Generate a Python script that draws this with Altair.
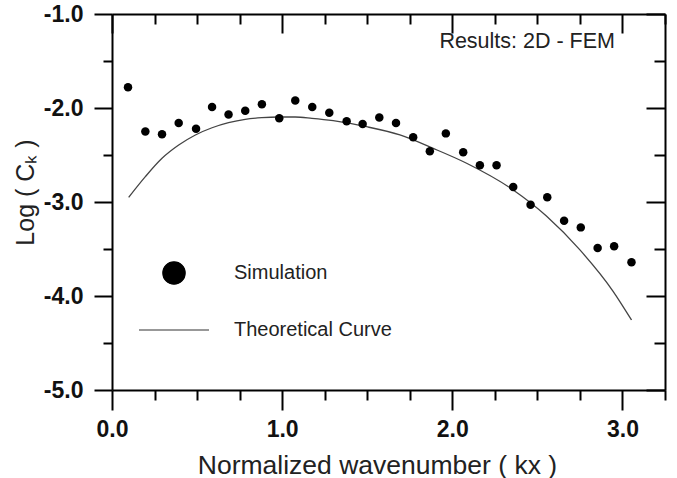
import altair as alt
import pandas as pd

# Simulation results (2D FEM): normalized wavenumber vs log of the coefficient
sim_kx = [0.094, 0.196, 0.294, 0.392, 0.494, 0.588, 0.685, 0.783, 0.881, 0.983,
          1.077, 1.177, 1.277, 1.379, 1.473, 1.571, 1.669, 1.770, 1.868, 1.962,
          2.064, 2.162, 2.260, 2.358, 2.460, 2.558, 2.657, 2.755, 2.854, 2.951, 3.053]
sim_logc = [-1.78, -2.25, -2.28, -2.16, -2.22, -1.99, -2.07, -2.03, -1.96, -2.11,
            -1.92, -1.99, -2.05, -2.14, -2.17, -2.10, -2.16, -2.31, -2.46, -2.27,
            -2.47, -2.61, -2.61, -2.84, -3.03, -2.95, -3.20, -3.27, -3.49, -3.47, -3.64]

# Theoretical curve
theory_kx = [0.098, 0.196, 0.294, 0.392, 0.490, 0.588, 0.685, 0.783, 0.881, 0.980,
             1.077, 1.175, 1.300, 1.496, 1.692, 1.888, 2.084, 2.358, 2.553, 2.750,
             2.945, 3.053]
theory_logc = [-2.95, -2.73, -2.535, -2.394, -2.287, -2.21, -2.156, -2.12, -2.103, -2.096,
               -2.096, -2.11, -2.135, -2.199, -2.287, -2.43, -2.588, -2.872, -3.149, -3.51,
               -3.95, -4.255]

series_names = ["Simulation", "Theoretical Curve"]

# Tick positions: majors carry labels, minors are shorter marks
x_ticks = [0.0, 0.25, 0.5, 0.75, 1.0, 1.25, 1.5, 1.75, 2.0, 2.25, 2.5, 2.75, 3.0, 3.25]
y_ticks = [-5.0, -4.5, -4.0, -3.5, -3.0, -2.5, -2.0, -1.5, -1.0]

W, H = 553, 376
FONT = "Liberation Sans, Arial, Helvetica, sans-serif"
NARROW = "Liberation Sans Narrow, Arial Narrow, Liberation Sans, sans-serif"

is_major = "abs(datum.value - round(datum.value)) < 0.001"
major_label = f"{is_major} ? (datum.value < 0 ? '-' : '') + format(abs(datum.value), '.1f') : ''"

sim_df = pd.DataFrame({"kx": sim_kx, "logc": sim_logc})
theory_df = pd.DataFrame({"kx": theory_kx, "logc": theory_logc})
legend_df = pd.DataFrame({"series": series_names})

x_scale = alt.Scale(domain=[0, 3.25], nice=False, zero=False)
y_scale = alt.Scale(domain=[-5, -1], nice=False, zero=False)

common_axis = dict(
    grid=False,
    domainColor="#000",
    domainWidth=2,
    tickColor="#000",
    tickWidth=2,
    labelOverlap=False,
    labelFlush=False,
)

x_axis_main = alt.Axis(
    orient="bottom",
    values=x_ticks,
    tickSize={"condition": {"test": is_major, "value": 20}, "value": 10},
    labelExpr=major_label,
    labelFont=FONT,
    labelFontSize=23,
    labelFontWeight="bold",
    labelColor="#111",
    labelPadding=8,
    title="Normalized wavenumber ( kx )",
    titleFont=FONT,
    titleFontSize=26.5,
    titleFontWeight="normal",
    titleColor="#222",
    titleX=265,
    titleY=83,
    titleBaseline="alphabetic",
    **common_axis,
)

y_axis_main = alt.Axis(
    orient="left",
    values=y_ticks,
    tickSize={"condition": {"test": is_major, "value": 18}, "value": 9},
    labelExpr=major_label,
    labelFont=FONT,
    labelFontSize=23,
    labelFontWeight="bold",
    labelColor="#111",
    labelPadding=11,
    title="Log ( C\u2096 )",
    titleFont=FONT,
    titleFontSize=25,
    titleFontWeight="normal",
    titleColor="#222",
    titleAngle=-90,
    titleX=-87,
    titleY=178,
    titleAlign="center",
    titleBaseline="middle",
    **common_axis,
)

# Frame on the top and right with inward-pointing ticks
x_axis_top = alt.Axis(
    orient="bottom",
    offset=-H,
    values=x_ticks,
    tickSize={"condition": {"test": is_major, "value": 19}, "value": 10},
    labels=False,
    title=None,
    **common_axis,
)
y_axis_right = alt.Axis(
    orient="left",
    offset=-W,
    values=y_ticks,
    tickSize={"condition": {"test": is_major, "value": 19}, "value": 11},
    labels=False,
    title=None,
    **common_axis,
)

theory = alt.Chart(theory_df).mark_line(
    color="#444", strokeWidth=1.3, interpolate="monotone"
).encode(
    x=alt.X("kx:Q", scale=x_scale, axis=x_axis_top),
    y=alt.Y("logc:Q", scale=y_scale, axis=y_axis_right),
)

points = alt.Chart(sim_df).mark_circle(size=72, color="#000", opacity=1).encode(
    x=alt.X("kx:Q", scale=x_scale, axis=x_axis_main),
    y=alt.Y("logc:Q", scale=y_scale, axis=y_axis_main),
)

# Key: a large filled dot for the simulation and a plain stroke for the theory.
# The scales carry explicit domains, so the key layer needs no visible marks.
key = alt.Chart(legend_df).transform_filter("false").mark_point(
    filled=True, opacity=1
).encode(
    fill=alt.Fill(
        "series:O",
        scale=alt.Scale(domain=series_names, range=["#000000", "#000000"]),
        legend=alt.Legend(
            title=None,
            orient="none",
            legendX=26,
            legendY=244,
            direction="vertical",
            padding=0,
            symbolOffset=0,
            symbolOpacity=1,
            symbolStrokeWidth=1.2,
            clipHeight=30,
            rowPadding=27,
            labelOffset=24,
            labelFont=FONT,
            labelFontSize=20,
            labelColor="#222",
            labelLimit=400,
        ),
    ),
    stroke=alt.Stroke(
        "series:O",
        scale=alt.Scale(domain=series_names, range=["#000000", "#333333"]),
    ),
    shape=alt.Shape(
        "series:O",
        scale=alt.Scale(domain=series_names, range=["circle", "stroke"]),
    ),
    size=alt.Size(
        "series:O",
        scale=alt.Scale(domain=series_names, range=[500, 4900]),
    ),
)

chart = (
    alt.layer(theory, points, key)
    .resolve_axis(x="independent", y="independent")
    .properties(
        width=W,
        height=H,
        autosize=alt.AutoSizeParams(type="none"),
        padding={"left": 112, "top": 14, "right": 12, "bottom": 88},
        background="white",
        title=alt.TitleParams(
            "Results: 2D -  FEM",
            anchor="end",
            orient="top",
            frame="group",
            offset=0,
            dx=-50,
            dy=66,
            baseline="alphabetic",
            font=NARROW,
            fontSize=21.5,
            fontWeight="normal",
            color="#222",
        ),
    )
    .configure_view(stroke=None)
)

chart.save("out.html", embed_options={"renderer": "svg", "actions": False})
